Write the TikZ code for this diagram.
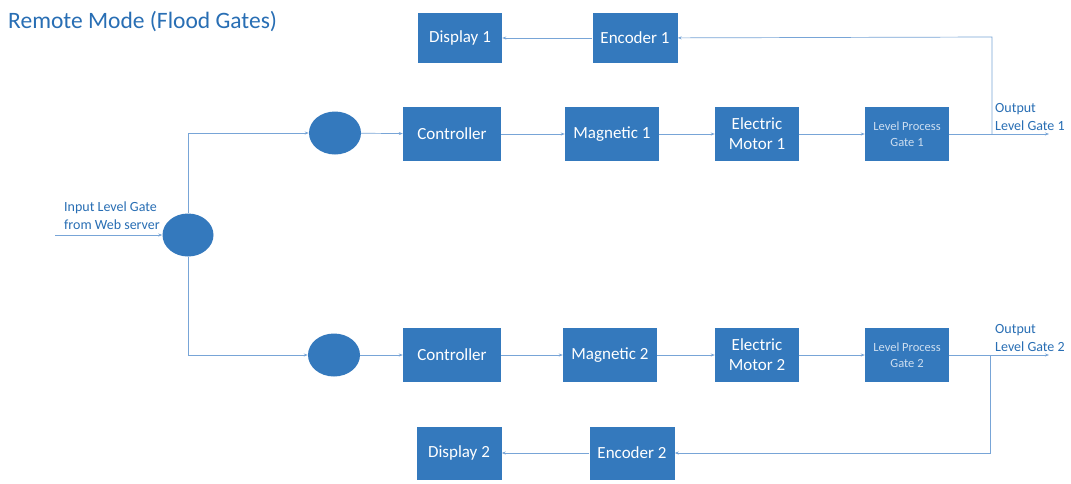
\documentclass[tikz,border=0pt]{standalone}
\usepackage{fontspec}
\setmainfont{Carlito}
\usetikzlibrary{arrows.meta,shapes.geometric}
\definecolor{boxblue}{RGB}{52,121,189}
\definecolor{txtblue}{RGB}{40,110,180}
\definecolor{lineblue}{RGB}{120,165,215}
\definecolor{faint}{RGB}{205,222,240}
\begin{document}
\begin{tikzpicture}[x=1pt,y=-1pt,
  blk/.style={draw=none,fill=boxblue,text=white,minimum width=#1,minimum height=54pt,inner sep=1pt,align=center,font=\fontsize{17}{19}\selectfont},
  blk/.default=94pt,
  oval/.style={ellipse,fill=boxblue,draw=none,minimum width=52pt,minimum height=43pt,inner sep=0pt},
  conn/.style={draw=lineblue,line width=0.7pt,-{Stealth[length=4pt,width=3pt]}},
  lbl/.style={text=txtblue,align=left,font=\fontsize{14}{18}\selectfont,inner sep=0pt}]
\useasboundingbox (0,0) rectangle (1071,483);
\fill[white] (0,0) rectangle (1071,483);
% title
\node[anchor=west,text=txtblue,font=\fontsize{23.5}{26}\selectfont,inner sep=0pt] (title) at (8,22) {Remote Mode (Flood Gates)};
% input
\node[oval,minimum width=51pt] (hub) at (188,235) {};
\coordinate (in) at (55,235);
\node[lbl,anchor=south west] (inlbl) at (64,230) {Input Level Gate\\from Web server};
% row 1
\node[oval] (o1) at (335,133) {};
\node[blk=98pt] (c1) at (452,134) {Controller};
\node[blk] (m1) at (612,134) {Magnetic 1};
\node[blk=84pt,font=\fontsize{17}{20}\selectfont] (e1) at (757,134) {Electric\\Motor 1};
\node[blk=84pt,text=faint,font=\fontsize{12.5}{16}\selectfont] (l1) at (907,134) {Level Process\\Gate 1};
\coordinate (j1) at (992,134);
\coordinate (out1) at (1049,134);
\coordinate (f1) at (992,37);
\node[lbl,anchor=south west] (olbl1) at (995,131) {Output\\Level Gate 1};
\node[blk=85pt,minimum height=50pt] (enc1) at (635,38) {Encoder 1};
\node[blk=84pt,minimum height=50pt] (d1) at (460,38) {Display 1};
% row 2
\node[oval] (o2) at (334,355) {};
\node[blk=98pt] (c2) at (452,355) {Controller};
\node[blk] (m2) at (610,355) {Magnetic 2};
\node[blk=84pt,font=\fontsize{17}{20}\selectfont] (e2) at (757,355) {Electric\\Motor 2};
\node[blk=84pt,text=faint,font=\fontsize{12.5}{16}\selectfont] (l2) at (907,355) {Level Process\\Gate 2};
\coordinate (j2) at (990,355);
\coordinate (out2) at (1049,355);
\coordinate (f2) at (990,453);
\node[lbl,anchor=south west] (olbl2) at (995,352) {Output\\Level Gate 2};
\node[blk=85pt,minimum height=53pt] (enc2) at (632,453) {Encoder 2};
\node[blk=85pt,minimum height=53pt] (d2) at (459,453) {Display 2};
% connectors
\draw[conn] (in) -- (hub);
\draw[conn] (hub.north) |- (o1.west);
\draw[conn] (hub.south) |- (o2.west);
\draw[conn] (o1) -- (c1);
\draw[conn] (c1) -- (m1);
\draw[conn] (m1) -- (e1);
\draw[conn] (e1) -- (l1);
\draw[conn] (l1) -- (out1);
\draw[conn] (j1) -- (f1) -- (enc1);
\draw[conn] (enc1) -- (d1);
\draw[conn] (o2) -- (c2);
\draw[conn] (c2) -- (m2);
\draw[conn] (m2) -- (e2);
\draw[conn] (e2) -- (l2);
\draw[conn] (l2) -- (out2);
\draw[conn] (j2) -- (f2) -- (enc2);
\draw[conn] (enc2) -- (d2);
\end{tikzpicture}
\end{document}
